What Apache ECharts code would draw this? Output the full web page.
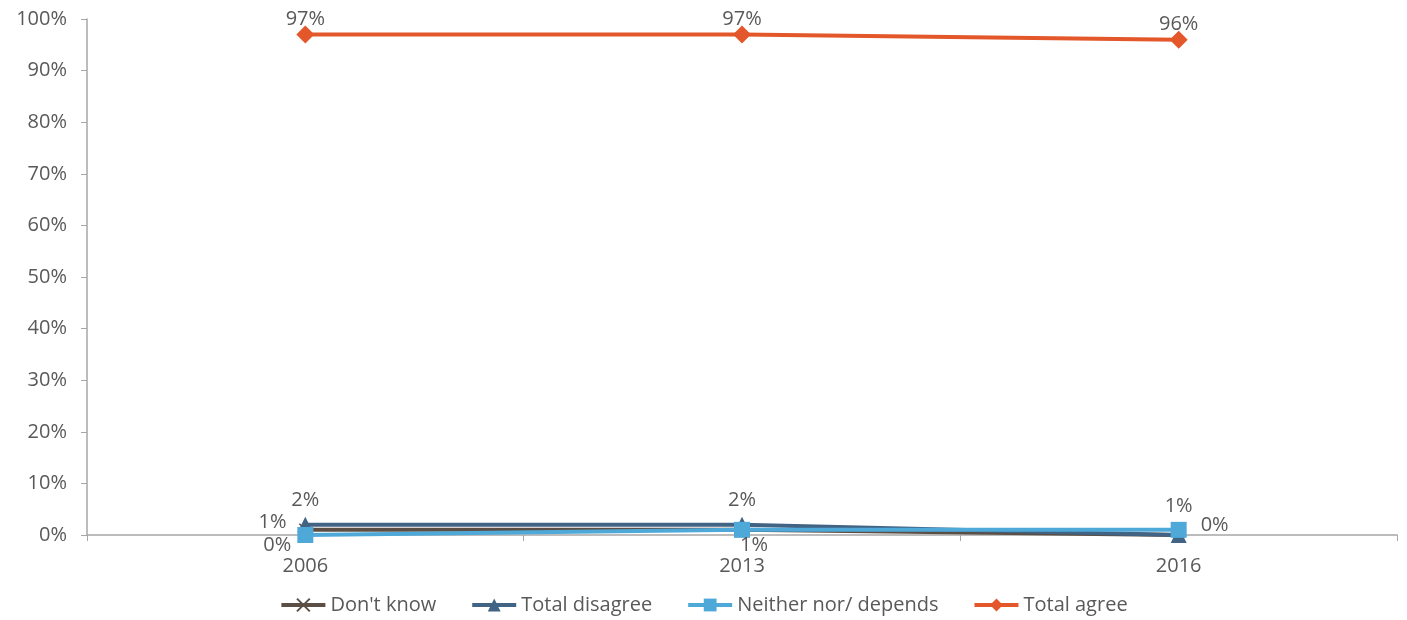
<!DOCTYPE html>
<html>
<head>
<meta charset="utf-8">
<script src="https://cdn.jsdelivr.net/npm/echarts@6/dist/echarts.min.js"></script>
<style>
  html, body { margin: 0; padding: 0; background: #fff; }
  #chart { width: 1407px; height: 620px; }
</style>
</head>
<body>
<div id="chart"></div>
<script>
var years = ['2006', '2013', '2016'];
var dontKnow = [1, 1, 0];
var totalDisagree = [2, 2, 0];
var neither = [0, 1, 1];
var totalAgree = [97, 97, 96];

var textColor = '#595959';
var fontFamily = 'Open Sans, Lato, sans-serif';

var chart = echarts.init(document.getElementById('chart'));

function lbl(pos, offset, show) {
  return {
    show: show !== false,
    position: pos,
    offset: offset || [0, 0],
    distance: 4,
    color: textColor,
    fontSize: 20,
    fontFamily: fontFamily,
    formatter: '{c}%'
  };
}

var option = {
  animation: false,
  grid: { left: 87, right: 10, top: 19, bottom: 85 },
  legend: {
    bottom: 0,
    left: 'center',
    itemWidth: 44,
    itemHeight: 16,
    itemGap: 34,
    lineStyle: { width: 4 },
    textStyle: { color: textColor, fontSize: 20, fontFamily: fontFamily },
    data: ["Don't know", 'Total disagree', 'Neither nor/ depends', 'Total agree']
  },
  xAxis: {
    type: 'category',
    data: years,
    boundaryGap: true,
    axisLine: { lineStyle: { color: '#a6a6a6', width: 1.5 } },
    axisTick: { show: true, length: 6, lineStyle: { color: '#a6a6a6' } },
    axisLabel: { color: textColor, fontSize: 20, fontFamily: fontFamily, margin: 21 }
  },
  yAxis: {
    type: 'value',
    min: 0,
    max: 100,
    interval: 10,
    axisLine: { show: true, lineStyle: { color: '#a6a6a6', width: 1.5 } },
    axisTick: { show: true, length: 6, lineStyle: { color: '#a6a6a6' } },
    splitLine: { show: false },
    axisLabel: { color: textColor, fontSize: 20, fontFamily: fontFamily, margin: 20, formatter: '{value}%' }
  },
  series: [
    {
      name: "Don't know",
      type: 'line',
      data: [
        { value: dontKnow[0], label: lbl('left', [-8, -8]) },
        { value: dontKnow[1], label: { show: false } },
        { value: dontKnow[2], label: { show: false } }
      ],
      symbol: 'path://M0,0 L10,10 M10,0 L0,10',
      symbolSize: 12,
      color: '#5b4f45',
      lineStyle: { width: 4, color: '#5b4f45' },
      itemStyle: { color: '#5b4f45', borderColor: '#5b4f45', borderWidth: 1.5 },
      z: 2
    },
    {
      name: 'Total disagree',
      type: 'line',
      data: [
        { value: totalDisagree[0], label: lbl('top', [0, -2]) },
        { value: totalDisagree[1], label: lbl('top', [0, -2]) },
        { value: totalDisagree[2], label: lbl('right', [10, -10]) }
      ],
      symbol: 'triangle',
      symbolSize: 16,
      color: '#416384',
      lineStyle: { width: 4, color: '#416384' },
      z: 3
    },
    {
      name: 'Neither nor/ depends',
      type: 'line',
      data: [
        { value: neither[0], label: lbl('bottom', [-28, -12]) },
        { value: neither[1], label: lbl('bottom', [12, -7]) },
        { value: neither[2], label: lbl('top', [0, -2]) }
      ],
      symbol: 'rect',
      symbolSize: 16,
      color: '#4ea9d9',
      lineStyle: { width: 4, color: '#4ea9d9' },
      z: 4
    },
    {
      name: 'Total agree',
      type: 'line',
      data: totalAgree,
      label: lbl('top', [0, 8]),
      symbol: 'diamond',
      symbolSize: 18,
      color: '#e3572a',
      lineStyle: { width: 4, color: '#e3572a' },
      z: 5
    }
  ]
};

chart.setOption(option);
</script>
</body>
</html>
